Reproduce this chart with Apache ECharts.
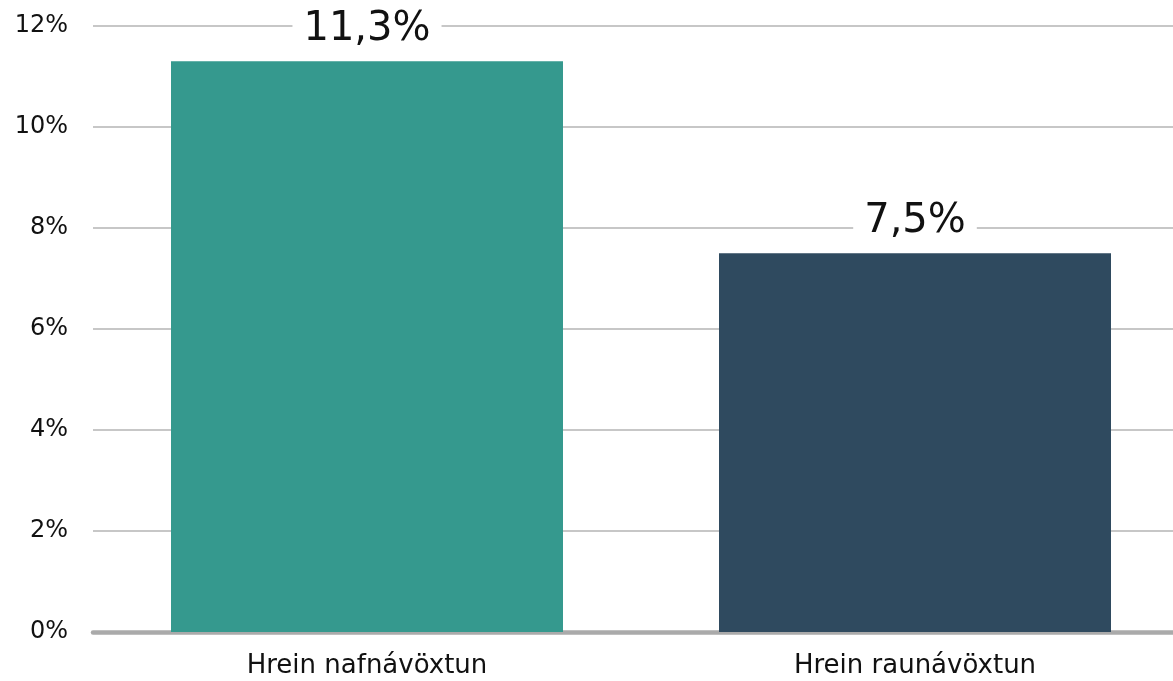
<!DOCTYPE html>
<html>
<head>
<meta charset="utf-8">
<script src="https://cdn.jsdelivr.net/npm/echarts@6/dist/echarts.min.js"></script>
<style>
  html, body { margin: 0; padding: 0; background: #fff; overflow: hidden; }
  #chart { width: 1189px; height: 681px; }
</style>
</head>
<body>
<div id="chart"></div>
<script>
// data
var categories = ['Hrein nafnávöxtun', 'Hrein raunávöxtun'];
var values = [11.3, 7.5];
var barColors = ['#35998e', '#2f4a5f'];
var yTicks = [0, 2, 4, 6, 8, 10, 12];

// the plot area runs a little past the right edge of the window
var chart = echarts.init(document.getElementById('chart'));
var font = 'Verdana, "DejaVu Sans", sans-serif';

var option = {
    animation: false,
    grid: {
        left: 93,
        right: 0,
        top: 26,
        bottom: 49,
        containLabel: false
    },
    xAxis: {
        type: 'category',
        data: categories,
        axisTick: { show: false },
        axisLine: {
            show: true,
            lineStyle: { color: '#aaaaaa', width: 4.5 }
        },
        axisLabel: {
            margin: 21,
            color: '#111',
            fontSize: 26,
            fontFamily: font
        }
    },
    yAxis: {
        type: 'value',
        min: yTicks[0],
        max: yTicks[yTicks.length - 1],
        interval: 2,
        axisLine: { show: false },
        axisTick: { show: false },
        splitLine: {
            lineStyle: { color: '#b5b5b5', width: 1.5 }
        },
        axisLabel: {
            margin: 25,
            color: '#111',
            fontSize: 24,
            fontFamily: font,
            formatter: function (v) { return v + '%'; }
        }
    },
    series: [
        {
            type: 'bar',
            barWidth: 392,
            data: values.map(function (v, i) {
                return { value: v, itemStyle: { color: barColors[i] } };
            }),
            label: {
                show: true,
                position: 'top',
                distance: 10,
                fontSize: 40,
                fontFamily: font,
                color: '#111',
                backgroundColor: '#fff',
                padding: [2, 11, 2, 11],
                formatter: function (p) {
                    return p.value.toFixed(1).replace('.', ',') + '%';
                }
            }
        }
    ]
};

chart.setOption(option);
window.addEventListener('resize', function () {
    chart.resize();
});
</script>
</body>
</html>
